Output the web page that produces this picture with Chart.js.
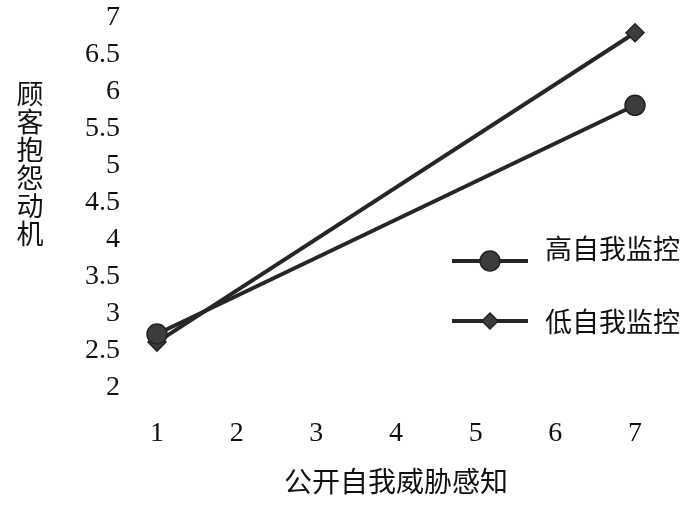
<!DOCTYPE html>
<html><head><meta charset="utf-8">
<script src="https://cdn.jsdelivr.net/npm/chart.js@4.4.1/dist/chart.umd.min.js"></script>
<style>html,body{margin:0;padding:0;background:#fff;}#wrap{width:700px;height:509px;}</style>
</head><body><div id="wrap"><canvas id="c" width="700" height="509"></canvas></div>
<script>
const categories = ['1','2','3','4','5','6','7'];
const highSelfMonitoring = [2.73, null, null, null, null, null, 5.82];
const lowSelfMonitoring  = [2.62, null, null, null, null, null, 6.80];
const seriesNames = ['高自我监控', '低自我监控'];
const yTitle = '顾客抱怨动机';
const xTitle = '公开自我威胁感知';
const yMin = 2, yMax = 7, yStep = 0.5;

const serif = "'Liberation Serif', 'Noto Sans CJK SC', serif";
const cjk = "'Noto Sans CJK SC', 'Liberation Serif', serif";
const lineCol = '#262626';
const markCol = '#3c3c3c';

const annotations = {
  id: 'annotations',
  afterDraw(chart) {
    const ctx = chart.ctx;
    ctx.save();
    ctx.fillStyle = '#111';
    ctx.font = '27px ' + cjk;
    ctx.textAlign = 'center';
    ctx.textBaseline = 'middle';
    [...yTitle].forEach((ch, i) => ctx.fillText(ch, 30, 94 + i * 28));
    const items = [{ds: 0, ly: 261, ty: 249}, {ds: 1, ly: 321, ty: 322}];
    items.forEach(it => {
      const d = chart.data.datasets[it.ds];
      ctx.strokeStyle = lineCol;
      ctx.lineWidth = 4;
      ctx.beginPath(); ctx.moveTo(452, it.ly); ctx.lineTo(528, it.ly); ctx.stroke();
      ctx.fillStyle = markCol;
      ctx.strokeStyle = '#222';
      ctx.lineWidth = 1.5;
      Chart.helpers.drawPoint(ctx, {pointStyle: d.pointStyle, radius: it.ds === 0 ? 10 : 8, rotation: 0, borderWidth: 1.5}, 490, it.ly);
      ctx.fillStyle = '#111';
      ctx.font = '27px ' + cjk;
      ctx.textAlign = 'left';
      ctx.textBaseline = 'middle';
      ctx.fillText(d.label, 545, it.ty);
    });
    ctx.restore();
  }
};

new Chart(document.getElementById('c'), {
  type: 'line',
  data: {
    labels: categories,
    datasets: [
      {label: seriesNames[0], data: highSelfMonitoring, borderColor: lineCol, borderWidth: 4,
       pointStyle: 'circle', pointRadius: 10, pointBackgroundColor: markCol, pointBorderColor: '#222', pointBorderWidth: 1.5, spanGaps: true},
      {label: seriesNames[1], data: lowSelfMonitoring, borderColor: lineCol, borderWidth: 4,
       pointStyle: 'rectRot', pointRadius: 9, pointBackgroundColor: markCol, pointBorderColor: '#222', pointBorderWidth: 1.5, spanGaps: true}
    ]
  },
  options: {
    responsive: false,
    animation: false,
    devicePixelRatio: 1,
    layout: {padding: {top: 18, right: 65, bottom: 0, left: 0}},
    plugins: {legend: {display: false}, tooltip: {enabled: false}},
    scales: {
      x: {
        offset: false,
        grid: {display: false, drawTicks: false},
        border: {display: false},
        ticks: {color: '#111', font: {family: serif, size: 28}, padding: 29, maxRotation: 0, autoSkip: false},
        title: {display: true, text: xTitle, color: '#111', font: {family: cjk, size: 28}, padding: {top: 10, bottom: 11}},
        afterFit: s => { s.height = 121; s.paddingLeft = 0; s.paddingRight = 0; }
      },
      y: {
        min: yMin, max: yMax,
        grid: {display: false, drawTicks: false},
        border: {display: false},
        ticks: {stepSize: yStep, autoSkip: false, color: '#111', font: {family: serif, size: 28}, padding: 37,
                callback: v => String(v)},
        afterFit: s => { s.width = 157; s.paddingTop = 0; s.paddingBottom = 0; }
      }
    }
  },
  plugins: [annotations]
});
</script>
</body></html>
